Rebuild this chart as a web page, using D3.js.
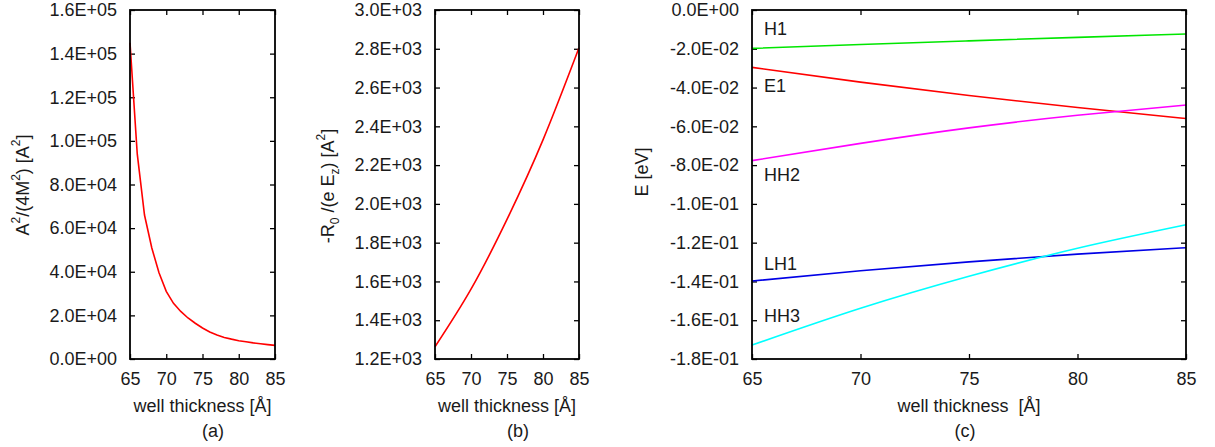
<!DOCTYPE html>
<html><head><meta charset="utf-8">
<script src="https://cdn.jsdelivr.net/npm/d3@7"></script>
<style>
body{margin:0;background:#fff;}
svg{display:block;font-family:"Liberation Sans",Arial,Helvetica,sans-serif;}
text{white-space:pre;}
.tick text{font-size:18px;fill:#1a1a1a;}
.tick line{stroke:#000;stroke-width:1.3;}
</style></head><body>
<svg id="chart" width="1215" height="447"></svg>
<script>
// ---------- data ----------
const xA = [65,66,67,68,69,70,71,72,73,74,75,76,77,78,79,80,81,82,83,84,85];
const yA = [145000,94000,66000,51000,39500,31000,25500,21800,18800,16400,14200,12400,11000,9900,9100,8400,7900,7400,7000,6600,6250];
const xB = [65,70,75,80,85];
const yB = [1263,1560,1920,2330,2805];
const xC = [65,70,75,80,85];
const seriesNames = ["H1","E1","HH2","LH1","HH3"];
const H1  = [-0.0198,-0.0178,-0.0159,-0.0141,-0.0124];
const E1  = [-0.0296,-0.0372,-0.0441,-0.0503,-0.0560];
const HH2 = [-0.0777,-0.0688,-0.0608,-0.0543,-0.0490];
const LH1 = [-0.1398,-0.1345,-0.1299,-0.1259,-0.1226];
const HH3 = [-0.1728,-0.1538,-0.1373,-0.1229,-0.1108];
const xTicks = [65,70,75,80,85];
const yTicksA = [0,20000,40000,60000,80000,100000,120000,140000,160000];
const yTicksB = [1200,1400,1600,1800,2000,2200,2400,2600,2800,3000];
const yTicksC = [0,-0.02,-0.04,-0.06,-0.08,-0.10,-0.12,-0.14,-0.16,-0.18];

function fmt(v){
  if (Math.abs(v) < 1e-12) return "0.0E+00";
  const p = v.toExponential(1).split("e");
  const s = p[1][0];
  const d = p[1].slice(1).padStart(2,"0");
  return p[0] + "E" + s + d;
}

const svg = d3.select("#chart");

function panel(o){
  const g = svg.append("g");
  const x = d3.scaleLinear().domain([65,85]).range([o.x0,o.x1]);
  const y = d3.scaleLinear().domain(o.ydom).range([359,10]);
  const tl = 5;
  g.append("g").attr("transform","translate(0,359)")
    .call(d3.axisBottom(x).tickValues(xTicks).tickSize(-tl).tickPadding(13).tickFormat(d3.format("d")))
    .call(a=>a.select(".domain").remove());
  g.append("g").attr("transform","translate(0,10)")
    .call(d3.axisTop(x).tickValues(xTicks).tickSize(-tl).tickFormat(""))
    .call(a=>a.select(".domain").remove());
  g.append("g").attr("transform",`translate(${o.x0},0)`)
    .call(d3.axisLeft(y).tickValues(o.yticks).tickSize(-tl).tickPadding(13).tickFormat(fmt))
    .call(a=>a.select(".domain").remove());
  g.append("g").attr("transform",`translate(${o.x1},0)`)
    .call(d3.axisRight(y).tickValues(o.yticks).tickSize(-tl).tickFormat(""))
    .call(a=>a.select(".domain").remove());
  g.selectAll(".tick text").attr("font-family",null);
  o.series.forEach(s=>{
    const line = d3.line().x(d=>x(d[0])).y(d=>y(d[1])).curve(s.curve||d3.curveLinear);
    g.append("path").datum(s.xs.map((v,i)=>[v,s.ys[i]]))
      .attr("d",line).attr("fill","none").attr("stroke",s.color).attr("stroke-width",1.6);
  });
  g.append("rect").attr("x",o.x0).attr("y",10).attr("width",o.x1-o.x0).attr("height",349)
    .attr("fill","none").attr("stroke","#000").attr("stroke-width",1.8);
  g.append("text").attr("x",(o.x0+o.x1)/2).attr("y",412).attr("text-anchor","middle")
    .attr("font-size",18).attr("fill","#1a1a1a").text(o.xtitle);
  g.append("text").attr("x",o.capX).attr("y",437).attr("text-anchor","middle")
    .attr("font-size",18).attr("fill","#1a1a1a").text(o.cap);
  return {g,x,y};
}

function ytitle(g, cx, cy, parts){
  const t = g.append("text").attr("transform",`translate(${cx},${cy}) rotate(-90)`)
    .attr("text-anchor","middle").attr("dominant-baseline","middle")
    .attr("font-size",18).attr("fill","#1a1a1a");
  parts.forEach(p=>{
    const ts = t.append("tspan").text(p[0]);
    if (p[1]==="sup") ts.attr("baseline-shift","super").attr("font-size",12);
    if (p[1]==="sub") ts.attr("baseline-shift","sub").attr("font-size",12);
  });
}

const pa = panel({x0:130,x1:275,ydom:[0,160000],yticks:yTicksA,xtitle:"well thickness [Å]",cap:"(a)",capX:213,
  series:[{xs:xA,ys:yA,color:"#ff0000"}]});
ytitle(pa.g, 24, 185, [["A"],["2","sup"],["/(4M"],["2","sup"],[") [A"],["2","sup"],["]"]]);

const pb = panel({x0:435,x1:579,ydom:[1200,3000],yticks:yTicksB,xtitle:"well thickness [Å]",cap:"(b)",capX:518,
  series:[{xs:xB,ys:yB,color:"#ff0000",curve:d3.curveNatural}]});
ytitle(pb.g, 329, 186, [["-R"],["0","sub"],[" /(e E"],["z","sub"],[") [A"],["2","sup"],["]"]]);

const colors = {H1:"#00e600",E1:"#ff0000",HH2:"#ff00ff",LH1:"#0000e6",HH3:"#00ffff"};
const vals = {H1,E1,HH2,LH1,HH3};
const pc = panel({x0:752,x1:1186,ydom:[-0.18,0],yticks:yTicksC,xtitle:"well thickness  [Å]",cap:"(c)",capX:965,
  series:seriesNames.map(n=>({xs:xC,ys:vals[n],color:colors[n],curve:d3.curveNatural}))});
ytitle(pc.g, 643, 172, [["E [eV]"]]);
const labelPos = {H1:35,E1:92,HH2:181,LH1:270,HH3:322};
seriesNames.forEach(n=>{
  pc.g.append("text").attr("x",764).attr("y",labelPos[n]).attr("font-size",18)
    .attr("fill","#1a1a1a").text(n);
});
</script>
</body></html>
